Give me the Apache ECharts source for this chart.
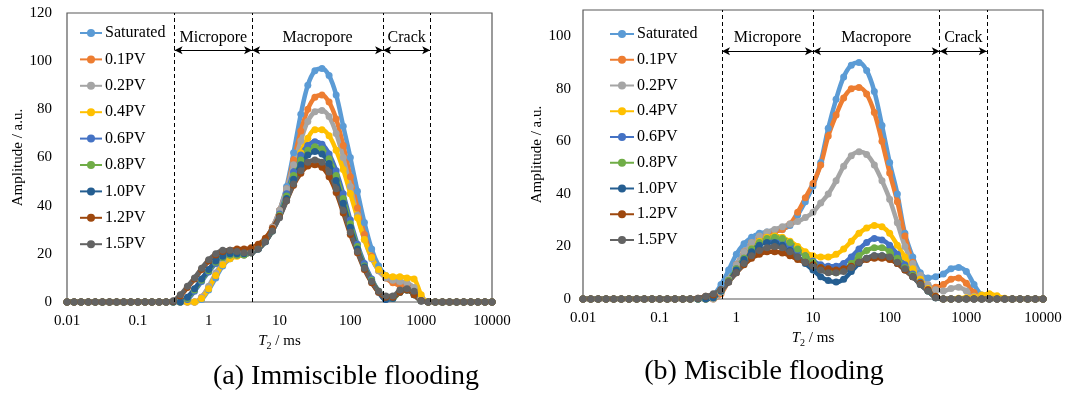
<!DOCTYPE html>
<html>
<head>
<meta charset="utf-8">
<script src="https://cdn.jsdelivr.net/npm/echarts/dist/echarts.min.js"></script>
<style>
  html, body { margin: 0; padding: 0; background: #fff; }
  #chart { width: 1067px; height: 399px; }
</style>
</head>
<body>
<div id="chart"></div>
<script>
// T2 relaxation time grid (ms), 10 points per decade
const T2 = [0.01, 0.0126, 0.0158, 0.02, 0.0251, 0.0316, 0.0398, 0.0501, 0.0631, 0.0794,
  0.1, 0.126, 0.158, 0.2, 0.251, 0.316, 0.398, 0.501, 0.631, 0.794,
  1, 1.26, 1.58, 2, 2.51, 3.16, 3.98, 5.01, 6.31, 7.94,
  10, 12.6, 15.8, 20, 25.1, 31.6, 39.8, 50.1, 63.1, 79.4,
  100, 126, 158, 200, 251, 316, 398, 501, 631, 794,
  1000, 1259, 1585, 1995, 2512, 3162, 3981, 5012, 6310, 7943, 10000];

const SERIES_NAMES = ['Saturated', '0.1PV', '0.2PV', '0.4PV', '0.6PV', '0.8PV', '1.0PV', '1.2PV', '1.5PV'];
const X_TICK_LABELS = ['0.01', '0.1', '1', '10', '100', '1000', '10000'];
const CAPTIONS = ['(a) Immiscible flooding', '(b) Miscible flooding'];
const REGION_NAMES = ['Micropore', 'Macropore', 'Crack'];

// (a) Immiscible flooding: amplitude (a.u.) on the T2 grid
const A_SAT = [0,0,0,0,0,0,0,0,0,0,0,0,0,0, 0,0,0,0,0,1,5, 10,15,18,19.5,20,21,23,26,30,38, 48,62,78,90,96,97,94,86,73,60, 46,33,22,15,11,8.5,7.5,7,5,1.5, 0,0,0,0,0,0,0,0,0,0];
const A_01  = [0,0,0,0,0,0,0,0,0,0,0,0,0,0, 0,0,0,0,0,2,6, 11,16,19,20,20.5,21,23,26,31,38, 47,59,71,80,85,86,83,76,65,52, 39,28,19,13,10,8,7,7,5,1.5, 0,0,0,0,0,0,0,0,0,0];
const A_02  = [0,0,0,0,0,0,0,0,0,0,0,0,0,0, 0,0,0,0,0,2,6.5, 12,16.5,19,20,20.5,21,23,26,31,38, 47,57,67,75,79,79.5,77,70,60,48, 36,26,18,13,10,9,8.5,8,6,2, 0,0,0,0,0,0,0,0,0,0];
const A_04  = [0,0,0,0,0,0,0,0,0,0,0,0,0,0, 0,0,0,0,0,1.5,5.5, 11,15.5,18,19,19.5,20.5,22.5,25.5,30,36, 44,53,62,68,71.5,71.5,69,63,55,45, 35,26,18.5,13.5,11,10.5,10.5,10,9.5,3, 0,0,0,0,0,0,0,0,0,0];
const A_06  = [0,0,0,0,0,0,0,0,0,0,0,0,0,0, 0,0,0,1,4.5,8.5,12.5, 16,18.5,19.5,19.5,19.5,20.5,22,25,30,36.5, 45,54,61,65,66.5,65.5,61.5,54.5,45,34, 24,16,9.5,4.5,1,1.5,4,5,3,0.5, 0,0,0,0,0,0,0,0,0,0];
const A_08  = [0,0,0,0,0,0,0,0,0,0,0,0,0,0, 0,0,0,1.5,5,9,13, 16.5,18.5,19.5,19.5,19.5,20.5,22,25,29.5,36, 44,52.5,59,63,64.5,63.5,59.5,52.5,43,32.5, 23,15,9,4.5,1.5,1.5,4,5,3,0.5, 0,0,0,0,0,0,0,0,0,0];
const A_10  = [0,0,0,0,0,0,0,0,0,0,0,0,0,0, 0,0,0,2,5.5,9.5,13.5, 17,19,20,20,20,20.5,22,25,29.5,35.5, 43,51,57,61,62.5,61.5,57.5,50.5,41,31, 22,14.5,8.5,4,1,1.5,4,5,3,0.5, 0,0,0,0,0,0,0,0,0,0];
const A_12  = [0,0,0,0,0,0,0,0,0,0,0,0,0,0, 0,0.3,2.5,6,9.5,13.5,17, 19.5,21,21.5,22,22,22.5,24,26.5,30.5,35.5, 42,48.5,53.5,56.5,57,56,52,45.5,37,28, 20.5,13.5,8,4,2,2,4,5,3,0.5, 0,0,0,0,0,0,0,0,0,0];
const A_15  = [0,0,0,0,0,0,0,0,0,0,0,0,0,0, 0,0.5,3,6.5,10,14,17.5, 20,21.5,21.5,21,20.5,20.5,22,25,29.5,35, 42,49,54.5,58,59,58,54,47,38,29, 21,14,8.5,4.5,2.5,2.5,5,5.5,4.5,0.3, 0,0,0,0,0,0,0,0,0,0];

// (b) Miscible flooding: amplitude (a.u.) on the T2 grid
const B_SAT = [0,0,0,0,0,0,0,0,0,0,0,0,0,0, 0,0,0.5,1.5,5.5,11,17, 21,23.5,25,25.5,26,26.5,28,32,37,43, 52,65,76,84.5,89,90,87,79,66,52, 40,25,16,10,8,8.5,9.5,11.5,12,10.5, 5.5,1.5,0.5,0.3,0,0,0,0,0,0];
const B_01  = [0,0,0,0,0,0,0,0,0,0,0,0,0,0, 0,0,0,0,2,7,13, 18,21.5,23.5,24.5,25.5,26.5,28.5,33,38.5,44, 51,62,70,76.5,80,80.5,78,71,60,48, 37,24,14,7,4,4.5,5.5,7.5,8,6, 2.5,0.5,0.3,0,0,0,0,0,0,0];
const B_02  = [0,0,0,0,0,0,0,0,0,0,0,0,0,0, 0,0,0,0,2.5,7.5,13, 18,21.5,24,25.5,26.5,27.5,28.5,29.5,31,33, 36.5,40,45,50.5,54.5,56,55,51,45,38, 29,20,13.5,9,5.5,3.5,3,4,4.5,3, 1,0.3,0,0,0,0,0,0,0,0];
const B_04  = [0,0,0,0,0,0,0,0,0,0,0,0,0,0, 0,0,0,0.5,3,7,11.5, 15.5,19,22,23.5,24,23.5,22,20,18,16.5, 16,16,17,19,22,25,27,28,27.5,25, 20.5,16,11.5,7.5,4,1,0,0,0.3,0.5, 0.8,1.5,2,1.2,0.3,0,0,0,0,0];
const B_06  = [0,0,0,0,0,0,0,0,0,0,0,0,0,0, 0,0,0,0.5,3,7,11.5, 15.5,18.5,21,22,22.5,22,20.5,18.5,16.5,14.5, 13,12.5,12.5,13.5,16,19,21.5,23,22.5,20.5, 17,13,9.5,6.5,3.5,0.5,0,0,0,0, 0,0,0,0,0,0,0,0,0,0];
const B_08  = [0,0,0,0,0,0,0,0,0,0,0,0,0,0, 0,0,0,0.5,3,7,11.5, 15.5,19,21.5,23,23.5,23,21.5,19,16.5,14, 12,10.5,10,11,13.5,16.5,18.5,19.5,19.5,18, 15.5,12,9,6,3,0.5,0,0,0,0, 0,0,0,0,0,0,0,0,0,0];
const B_10  = [0,0,0,0,0,0,0,0,0,0,0,0,0,0, 0,0,0,0.5,3,6.5,11, 15,18,20.5,21.5,21.5,20.5,18.5,16,13.5,11, 8.5,7,6.5,7.5,10.5,13.5,15.5,16.5,16.5,15.5, 13.5,11,8.5,5.5,3,0.5,0,0,0,0, 0,0,0,0,0,0,0,0,0,0];
const B_12  = [0,0,0,0,0,0,0,0,0,0,0,0,0,0, 0,0.3,1,1.5,3.5,6.5,10, 13,15.5,17,18,18,17.5,16.5,15,14,13, 12,11.5,11,11.5,12.5,14,15,15.5,15.5,15, 13.5,11,8.5,6,3.5,1,0,0,0,0, 0,0,0,0,0,0,0,0,0,0];
const B_15  = [0,0,0,0,0,0,0,0,0,0,0,0,0,0, 0,0.3,1,2,3.5,6.5,10, 13.5,16.5,18.5,19.5,20,19.5,18,16,14,12.5, 11,10,10,10.5,12,14,15.5,16.5,16.5,16, 14,11.5,8.5,5.5,3,0.5,0,0,0,0, 0,0,0,0,0,0,0,0,0,0];

// Pore-type boundaries on the T2 axis (ms) and the level of the span arrows
const BOUNDS_A = [0.33, 4.1, 290, 1340];
const BOUNDS_B = [0.65, 10, 450, 1850];
const ARROW_LEVEL_A = 104.5;
const ARROW_LEVEL_B = 94.3;

const COLORS = ['#5B9BD5', '#ED7D31', '#A5A5A5', '#FFC000', '#4472C4', '#70AD47', '#255E91', '#9E480E', '#636363'];
const SERIF = '"Liberation Serif", "Times New Roman", serif';

const chart = echarts.init(document.getElementById('chart'));

function curveSeries(values, k, idx) {
  return {
    type: 'line',
    name: SERIES_NAMES[k],
    xAxisIndex: idx, yAxisIndex: idx,
    data: T2.map((t, i) => [t, values[i]]),
    smooth: 0.35,
    symbol: 'circle', symbolSize: 7, showAllSymbol: true,
    lineStyle: { width: 4.5, color: COLORS[k] },
    itemStyle: { color: COLORS[k] },
    emphasis: { disabled: true },
    z: 2
  };
}

function regionSeries(bounds, level, idx) {
  const spans = REGION_NAMES.map((nm, j) => [
    { coord: [bounds[j], level], name: nm },
    { coord: [bounds[j + 1], level] }
  ]);
  return [{
    type: 'line', data: [], xAxisIndex: idx, yAxisIndex: idx, silent: true, z: 5,
    markLine: {
      silent: true, animation: false, symbol: ['none', 'none'],
      lineStyle: { type: [4, 3], color: '#000', width: 1 },
      label: { show: false },
      data: bounds.map(b => ({ xAxis: b }))
    }
  }, {
    type: 'line', data: [], xAxisIndex: idx, yAxisIndex: idx, silent: true, z: 5,
    markLine: {
      silent: true, animation: false, symbol: ['arrow', 'arrow'], symbolSize: [6, 8],
      lineStyle: { type: 'solid', color: '#000', width: 1 },
      label: {
        show: true, position: 'insideMiddleTop', distance: 5, formatter: '{b}',
        fontFamily: SERIF, fontSize: 16, color: '#000'
      },
      data: spans
    }
  }];
}

function xAxisDef(idx) {
  return {
    type: 'log', logBase: 10, min: 0.01, max: 10000, gridIndex: idx,
    axisLine: { show: false }, axisTick: { show: false }, splitLine: { show: false },
    minorTick: { show: false },
    axisLabel: {
      fontFamily: SERIF, fontSize: 15, color: '#000', margin: 12,
      formatter: v => X_TICK_LABELS[Math.round(Math.log10(v)) + 2]
    },
    name: '{i|T}{s|2}{n| / ms}', nameLocation: 'middle', nameGap: 29,
    nameTextStyle: {
      rich: {
        i: { fontFamily: SERIF, fontSize: 15, fontStyle: 'italic', color: '#000', lineHeight: 20, verticalAlign: 'middle' },
        s: { fontFamily: SERIF, fontSize: 10, color: '#000', lineHeight: 20, verticalAlign: 'bottom' },
        n: { fontFamily: SERIF, fontSize: 15, color: '#000', lineHeight: 20, verticalAlign: 'middle' }
      }
    }
  };
}

function yAxisDef(idx, max, gap, margin) {
  return {
    type: 'value', min: 0, max: max, interval: 20, gridIndex: idx,
    axisLine: { show: false }, axisTick: { show: false }, splitLine: { show: false },
    axisLabel: { fontFamily: SERIF, fontSize: 15, color: '#000', margin: margin, showMaxLabel: max % 20 === 0 },
    name: 'Amplitude / a.u.', nameLocation: 'middle', nameGap: gap, nameRotate: 90,
    nameTextStyle: { fontFamily: SERIF, fontSize: 15, color: '#000' }
  };
}

const A_SETS = [A_SAT, A_01, A_02, A_04, A_06, A_08, A_10, A_12, A_15];
const B_SETS = [B_SAT, B_01, B_02, B_04, B_06, B_08, B_10, B_12, B_15];

const series = [];
A_SETS.forEach((arr, k) => series.push(curveSeries(arr, k, 0)));
B_SETS.forEach((arr, k) => series.push(curveSeries(arr, k, 1)));
series.push(...regionSeries(BOUNDS_A, ARROW_LEVEL_A, 0));
series.push(...regionSeries(BOUNDS_B, ARROW_LEVEL_B, 1));

function legendDef(left, top, gap, width) {
  return {
    orient: 'vertical', left: left, top: top, padding: 0,
    itemWidth: width, itemHeight: 10, itemGap: gap,
    data: SERIES_NAMES,
    itemStyle: { borderWidth: 0 },
    lineStyle: { width: 2 },
    textStyle: { fontFamily: SERIF, fontSize: 16, color: '#000', lineHeight: 16, padding: [0, 0, 0, -2] },
    selectedMode: false
  };
}

chart.setOption({
  animation: false,
  backgroundColor: '#fff',
  grid: [
    { left: 67, top: 13, width: 425, height: 289, show: true, borderColor: '#595959', borderWidth: 1.2 },
    { left: 583, top: 10, width: 460, height: 289, show: true, borderColor: '#595959', borderWidth: 1.2 }
  ],
  xAxis: [xAxisDef(0), xAxisDef(1)],
  yAxis: [yAxisDef(0, 120, 41, 15), yAxisDef(1, 110, 28, 12)],
  legend: [legendDef(79, 25, 10.4, 22), legendDef(609, 26, 9.75, 24)],
  series: series,
  graphic: [
    { type: 'text', x: 346, y: 377, style: { text: CAPTIONS[0], fontFamily: SERIF, fontSize: 28, fill: '#000', align: 'center', verticalAlign: 'middle' } },
    { type: 'text', x: 764, y: 372, style: { text: CAPTIONS[1], fontFamily: SERIF, fontSize: 28, fill: '#000', align: 'center', verticalAlign: 'middle' } }
  ]
});
</script>
</body>
</html>
